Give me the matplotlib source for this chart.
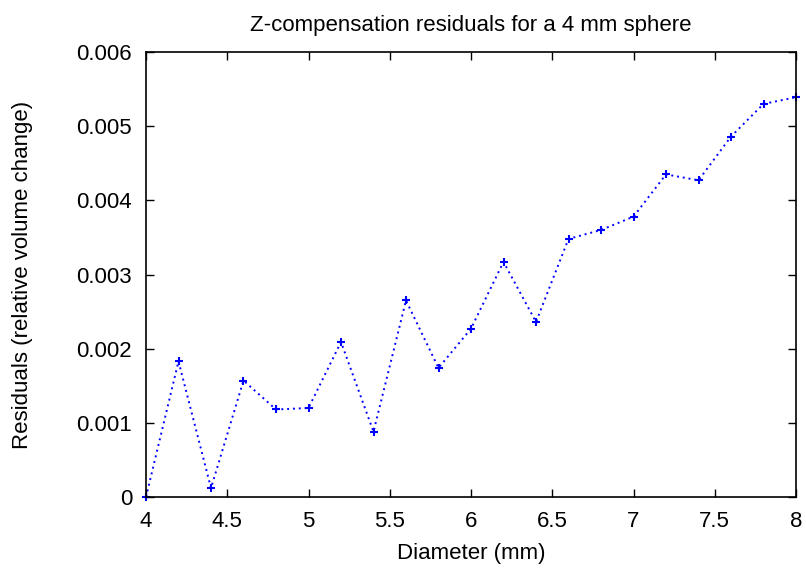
import matplotlib
matplotlib.use("Agg")
import matplotlib.pyplot as plt

plt.rcParams['font.family'] = ['Liberation Sans', 'DejaVu Sans']

# data
diameters = [4.0, 4.2, 4.4, 4.6, 4.8, 5.0, 5.2, 5.4, 5.6, 5.8, 6.0,
             6.2, 6.4, 6.6, 6.8, 7.0, 7.2, 7.4, 7.6, 7.8, 8.0]
residuals = [0.0, 0.00183, 0.00012, 0.00157, 0.00118, 0.00120, 0.00209,
             0.00088, 0.00265, 0.00174, 0.00227, 0.00317, 0.00236,
             0.00348, 0.00360, 0.00378, 0.00435, 0.00427, 0.00486,
             0.00530, 0.00539]
x_ticks = [4, 4.5, 5, 5.5, 6, 6.5, 7, 7.5, 8]
x_tick_labels = ['4', '4.5', '5', '5.5', '6', '6.5', '7', '7.5', '8']
y_ticks = [0, 0.001, 0.002, 0.003, 0.004, 0.005, 0.006]
y_tick_labels = ['0', '0.001', '0.002', '0.003', '0.004', '0.005', '0.006']

fig = plt.figure(figsize=(8.06, 5.69), dpi=100)
ax = fig.add_axes([146 / 806, 1 - 497 / 569, (796 - 146) / 806, (497 - 52) / 569])

ax.plot(diameters, residuals, color='#0000ff', linestyle=(0, (1, 2)),
        linewidth=1.4, marker='+', markersize=6, markeredgewidth=1.5,
        clip_on=False)

ax.set_xlim(4, 8)
ax.set_ylim(0, 0.006)
ax.set_xticks(x_ticks)
ax.set_xticklabels(x_tick_labels)
ax.set_yticks(y_ticks)
ax.set_yticklabels(y_tick_labels)
ax.tick_params(direction='in', length=6, width=1, labelsize=16,
               top=True, right=True)
ax.tick_params(axis='x', pad=10)
ax.tick_params(axis='y', pad=10)
for s in ax.spines.values():
    s.set_linewidth(1.2)

ax.set_title('Z-compensation residuals for a 4 mm sphere', fontsize=16, pad=15)
ax.set_xlabel('Diameter (mm)', fontsize=16, labelpad=8)
ax.set_ylabel('Residuals (relative volume change)', fontsize=16)
ax.yaxis.set_label_coords(-0.174, 0.5)

fig.savefig('out.png', dpi=100)
